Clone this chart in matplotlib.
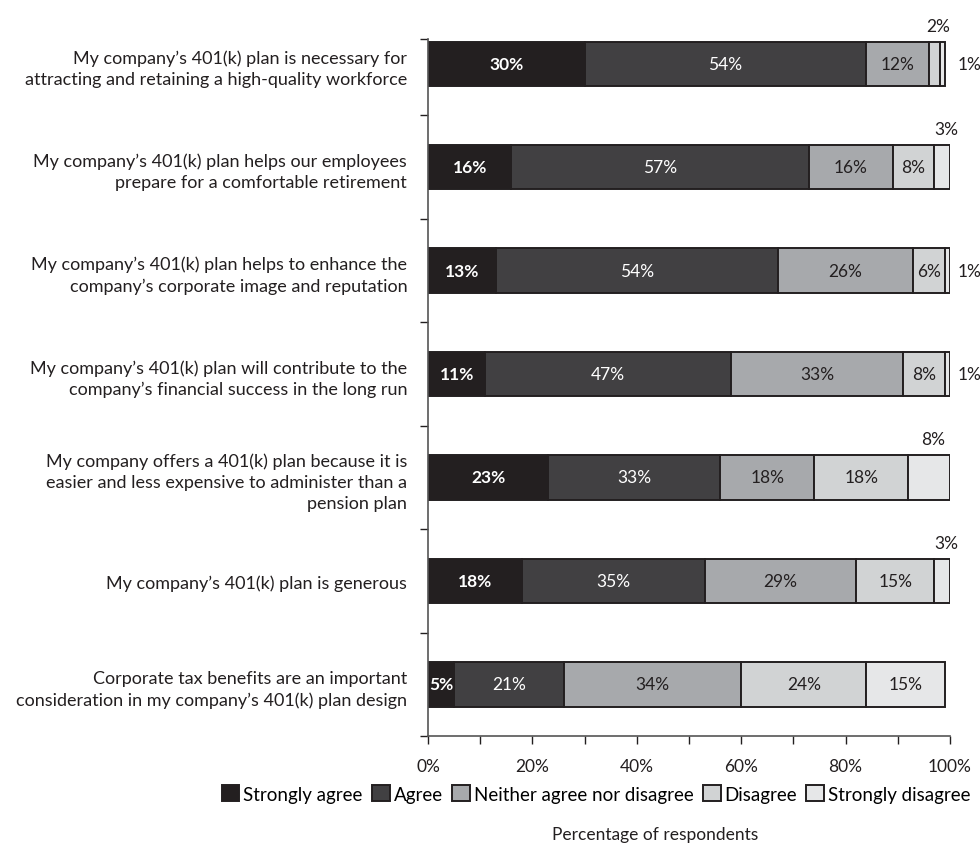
import matplotlib
matplotlib.use("Agg")
from matplotlib import pyplot as plt
from matplotlib.patches import Patch
from matplotlib.ticker import FixedLocator, MultipleLocator
import numpy as np

plt.rcParams['font.family'] = ['Lato', 'DejaVu Sans']

statements = [
    "My company\u2019s 401(k) plan is necessary for\nattracting and retaining a high-quality workforce",
    "My company\u2019s 401(k) plan helps our employees\nprepare for a comfortable retirement",
    "My company\u2019s 401(k) plan helps to enhance the\ncompany\u2019s corporate image and reputation",
    "My company\u2019s 401(k) plan will contribute to the\ncompany\u2019s financial success in the long run",
    "My company offers a 401(k) plan because it is\neasier and less expensive to administer than a\npension plan",
    "My company\u2019s 401(k) plan is generous",
    "Corporate tax benefits are an important\nconsideration in my company\u2019s 401(k) plan design",
]
responses = ["Strongly agree", "Agree", "Neither agree nor disagree",
             "Disagree", "Strongly disagree"]

strongly_agree = [30, 16, 13, 11, 23, 18, 5]
agree = [54, 57, 54, 47, 33, 35, 21]
neither = [12, 16, 26, 33, 18, 29, 34]
disagree = [2, 8, 6, 8, 18, 15, 24]
strongly_disagree = [1, 3, 1, 1, 8, 3, 15]

# small segments get their label outside the bar: (row, segment) -> where
outside = {(0, 3): 'above', (0, 4): 'right', (1, 4): 'above',
           (2, 4): 'right', (3, 4): 'right', (4, 4): 'above',
           (5, 4): 'above'}

colors = ['#231f20', '#414042', '#a7a9ac', '#d1d3d4', '#e6e7e8']
text_colors = ['white', 'white', '#231f20', '#231f20', '#231f20']
edge = '#231f20'

values = np.array([strongly_agree, agree, neither, disagree, strongly_disagree])
y = np.arange(len(statements))

fig = plt.figure(figsize=(9.8, 8.45), dpi=100)
ax = fig.add_axes([0.4367, 0.1278, 0.5327, 0.8249])

left = np.zeros(len(statements))
for k in range(len(responses)):
    ax.barh(y, values[k], left=left, height=0.43, color=colors[k],
            edgecolor=edge, linewidth=1.4, label=responses[k])
    for i in range(len(statements)):
        v = values[k][i]
        mid = left[i] + v / 2
        where = outside.get((i, k))
        if where == 'above':
            ax.text(mid + 0.8, y[i] - 0.37, f"{v}%", ha='center', va='center',
                    fontsize=12.5, color='#231f20')
        elif where == 'right':
            ax.text(101.4, y[i], f"{v}%", ha='left', va='center',
                    fontsize=12.5, color='#231f20')
        else:
            ax.text(mid, y[i], f"{v}%", ha='center', va='center',
                    fontsize=12.5, color=text_colors[k],
                    fontweight='bold' if k == 0 else 'normal')
    left += values[k]

ax.set_xlim(0, 100)
ax.set_ylim(6.5, -0.24)

ax.set_yticks(y)
ax.set_yticklabels(statements, fontsize=13, linespacing=1.4, color='#231f20')
ax.tick_params(axis='y', which='major', length=0, pad=15)
ax.yaxis.set_minor_locator(FixedLocator([-0.24] + list(np.arange(0.5, 6.6, 1.0))))
ax.tick_params(axis='y', which='minor', length=6, width=1.0, color=edge)

ax.set_xticks(np.arange(0, 101, 20))
ax.set_xticklabels([f"{t}%" for t in range(0, 101, 20)], fontsize=12.5,
                   color='#231f20')
ax.xaxis.set_minor_locator(MultipleLocator(10))
ax.tick_params(axis='x', which='both', length=6, width=1.0, color=edge,
               pad=10)

for side in ['top', 'right']:
    ax.spines[side].set_visible(False)
for side in ['left', 'bottom']:
    ax.spines[side].set_color('#555555')
    ax.spines[side].set_linewidth(1.2)

handles = [Patch(facecolor=c, edgecolor=edge, linewidth=1.4) for c in colors]
fig.legend(handles, responses, loc='center', ncol=5,
           bbox_to_anchor=(596 / 980, 1 - 795 / 845), frameon=False,
           fontsize=13.5, handlelength=0.95, handleheight=0.95,
           handletextpad=0.2, columnspacing=0.5, borderpad=0)

fig.text(655 / 980, 1 - 835 / 845, "Percentage of respondents",
         ha='center', va='center', fontsize=12.5, color='#231f20')

fig.savefig("out.png", dpi=100)
